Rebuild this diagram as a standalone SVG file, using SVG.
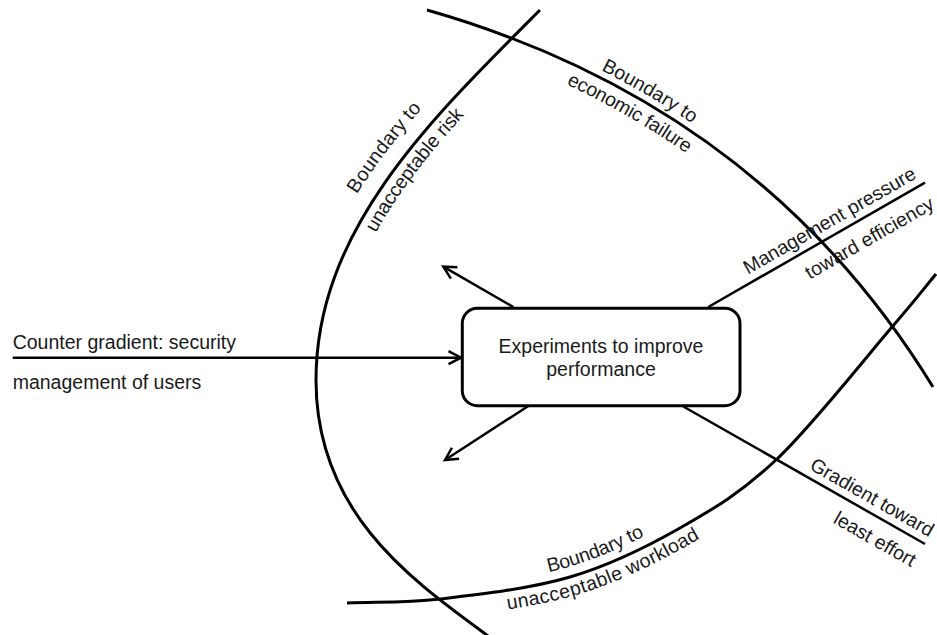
<svg xmlns="http://www.w3.org/2000/svg" xmlns:xlink="http://www.w3.org/1999/xlink" width="937" height="635" viewBox="0 0 937 635">
  <style>
    .boundary { fill: none; stroke: #000; stroke-width: 3; }
    .conn { fill: none; stroke: #000; stroke-width: 2.5; }
    .box { fill: #fff; stroke: #000; stroke-width: 3; }
    .lbl { font-family: "Liberation Sans", Arial, sans-serif; font-size: 19.5px; fill: #1a1a1a; }
    .mid { text-anchor: middle; }
  </style>
  <defs>
    <marker id="open-arrow" markerUnits="userSpaceOnUse" markerWidth="20" markerHeight="20" refX="0" refY="0" orient="auto" overflow="visible">
      <path d="M-12.5,-6.5 L0,0 L-12.5,6.5" fill="none" stroke="#000" stroke-width="2.5"/>
    </marker>
    <!-- upper part of the risk boundary, running upward so its label reads left to right -->
    <path id="risk-label-path" d="M316,380 C316,230 430,120 540,10"/>
  </defs>

  <!-- operating boundaries -->
  <g id="boundaries">
    <path id="economic-boundary" class="boundary" d="M427,10 Q760,105 933,387"/>
    <path id="risk-boundary" class="boundary" d="M540,10 C430,120 316,230 316,380 C316,510 407.5,576.7 480,630 L492,639"/>
    <path id="workload-boundary" class="boundary" d="M347,603 C378,601.7 402.8,603.3 440,599 C477.2,594.7 530,588.8 570,577 C610,565.2 645.5,547.7 680,528 C714.5,508.3 741.7,492.5 777,459 C812.3,425.5 865.5,357.8 892,327 C918.5,296.2 921.3,291.7 936,274"/>
  </g>

  <!-- boundary labels -->
  <g id="boundary-labels" class="lbl">
    <text class="mid" dy="-7"><textPath href="#economic-boundary" xlink:href="#economic-boundary" startOffset="36.5%">Boundary to</textPath></text>
    <text class="mid" dy="21"><textPath href="#economic-boundary" xlink:href="#economic-boundary" startOffset="35.5%">economic failure</textPath></text>
    <text class="mid" dy="-17"><textPath href="#risk-label-path" xlink:href="#risk-label-path" startOffset="54%">Boundary to</textPath></text>
    <text class="mid" dy="19"><textPath href="#risk-label-path" xlink:href="#risk-label-path" startOffset="54%">unacceptable risk</textPath></text>
    <text class="mid" dy="-10"><textPath href="#workload-boundary" xlink:href="#workload-boundary" startOffset="36.4%">Boundary to</textPath></text>
    <text class="mid" dy="19"><textPath href="#workload-boundary" xlink:href="#workload-boundary" startOffset="36.4%">unacceptable workload</textPath></text>
  </g>

  <!-- connectors -->
  <g id="connectors">
    <line id="counter-gradient" class="conn" x1="12.7" y1="357.7" x2="461" y2="357.7" marker-end="url(#open-arrow)"/>
    <line id="drift-up" class="conn" x1="513.3" y1="307" x2="443.3" y2="266.7" marker-end="url(#open-arrow)"/>
    <line id="drift-down" class="conn" x1="528.3" y1="406" x2="445" y2="460" marker-end="url(#open-arrow)"/>
    <line id="management-pressure" class="conn" x1="708.3" y1="307" x2="925" y2="182.7"/>
    <line id="least-effort" class="conn" x1="683.3" y1="406.5" x2="925" y2="544"/>
  </g>

  <!-- connector labels -->
  <g id="connector-labels" class="lbl">
    <text x="12.7" y="349.3">Counter gradient: security</text>
    <text x="12.7" y="389">management of users</text>
    <g transform="translate(708.3,306.7) rotate(-29.8)">
      <text class="mid" x="148" y="-8">Management pressure</text>
      <text class="mid" x="174" y="27">toward efficiency</text>
    </g>
    <g transform="translate(683.3,406.7) rotate(29.6)">
      <text class="mid" x="209" y="-8">Gradient toward</text>
      <text class="mid" x="232" y="27">least effort</text>
    </g>
  </g>

  <!-- central node -->
  <g id="node-experiments">
    <rect class="box" x="462.3" y="308.3" width="277.7" height="97.4" rx="15" ry="15"/>
    <text class="lbl mid" x="601" y="353.3">Experiments to improve</text>
    <text class="lbl mid" x="601" y="376">performance</text>
  </g>
</svg>
